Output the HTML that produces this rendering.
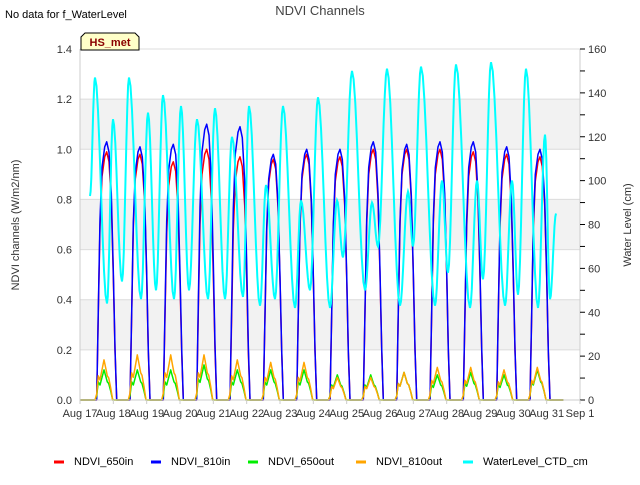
<!DOCTYPE html>
<html><head><meta charset="utf-8"><style>
body{margin:0;background:#fff;font-family:"Liberation Sans",sans-serif;}
svg text{font-family:"Liberation Sans",sans-serif;}
</style></head><body>
<svg id="chart" width="640" height="480" xmlns="http://www.w3.org/2000/svg">
<text x="5" y="18" font-size="11" fill="#000">No data for f_WaterLevel</text>
<text x="320" y="15" font-size="13" fill="#444" text-anchor="middle">NDVI Channels</text>
<g id="bands"></g><g id="grid"></g>
<g id="series"></g>
<g id="axes"></g>
<g>
<path d="M81,50 L81,37 L85,33 L135,33 L139,37 L139,50 Z" fill="#ffffc8" stroke="#000" stroke-width="1"/>
<text x="110" y="46" font-size="11" font-weight="bold" fill="#8b0000" text-anchor="middle">HS_met</text></g>
<text transform="translate(19,225) rotate(-90)" font-size="11" fill="#333" text-anchor="middle">NDVI channels (W/m2/nm)</text>
<text transform="translate(631,225) rotate(-90)" font-size="11" fill="#333" text-anchor="middle">Water Level (cm)</text>
<g id="legend"></g>
</svg>
<script>
const dayLabels=["Aug 17","Aug 18","Aug 19","Aug 20","Aug 21","Aug 22","Aug 23","Aug 24","Aug 25","Aug 26","Aug 27","Aug 28","Aug 29","Aug 30","Aug 31","Sep 1"];
const leftTicks=[0,0.2,0.4,0.6,0.8,1.0,1.2,1.4];
const rightTicks=[0,20,40,60,80,100,120,140,160];
const peak810in=[1.03,1.01,1.02,1.10,1.09,0.98,1.00,1.00,1.03,1.02,1.03,1.03,1.01,1.00];
const peak650in=[0.99,0.98,0.95,1.00,0.97,0.96,0.98,0.97,1.00,1.00,1.00,0.99,0.98,0.97];
const peak650out=[0.12,0.12,0.12,0.14,0.12,0.12,0.12,0.10,0.10,0.11,0.10,0.11,0.10,0.12];
const peak810out=[0.16,0.18,0.18,0.18,0.16,0.15,0.15,0.09,0.09,0.11,0.13,0.13,0.12,0.13];
const tideDay=[0.30,0.45,0.81,0.99,1.26,1.47,1.83,2.04,2.28,2.49,2.82,3.03,3.27,3.51,3.84,4.05,4.35,4.56,4.89,5.07,5.40,5.58,5.85,6.09,6.45,6.63,6.90,7.14,7.50,7.71,7.89,8.16,8.55,8.76,8.94,9.21,9.60,9.84,9.99,10.23,10.65,10.86,11.04,11.28,11.70,11.91,12.09,12.33,12.75,12.96,13.14,13.38,13.74,13.95,14.10,14.28];
const tideVal=[93,147,44,128,54,147,46,131,50,139,46,134,50,128,46,133,46,120,47,134,43,98,46,134,42,91,50,138,42,91,65,150,50,90,70,151,43,95,70,152,43,100,58,153,42,100,55,154,43,100,48,151,42,121,46,85];
const NS="http://www.w3.org/2000/svg";
const X0=80,X1=580,Y0=400,Y1=49;
const xs=d=>X0+(X1-X0)*d/15;
const yl=v=>Y0-(Y0-Y1)*v/1.4;
const yr=v=>Y0-(Y0-Y1)*v/160;
function mk(tag,attrs,parent){const e=document.createElementNS(NS,tag);for(const k in attrs)e.setAttribute(k,attrs[k]);parent.appendChild(e);return e;}
const bands=document.getElementById('bands'),grid=document.getElementById('grid'),axes=document.getElementById('axes'),ser=document.getElementById('series'),leg=document.getElementById('legend');
[[0.2,0.4],[0.6,0.8],[1.0,1.2]].forEach(b=>{const r=mk('rect',{x:X0,y:yl(b[1]),width:X1-X0,height:yl(b[0])-yl(b[1]),fill:'#f2f2f2'},bands);

});
leftTicks.forEach(v=>{const l=mk('line',{x1:X0,x2:X1,y1:yl(v),y2:yl(v),stroke:'#dcdcdc'},grid);


const t=mk('text',{x:72,y:yl(v)+4,'font-size':11,fill:'#333','text-anchor':'end'},axes);t.textContent=v.toFixed(1);

});
mk('line',{x1:X0,x2:X0,y1:Y1,y2:Y0,stroke:'#ccc'},axes);
mk('line',{x1:X1,x2:X1,y1:Y1,y2:Y0,stroke:'#ccc'},axes);
mk('line',{x1:X0,x2:X1,y1:Y0,y2:Y0,stroke:'#ccc'},axes);
for(let v=0;v<=160;v+=10){mk('line',{x1:X1,x2:X1+5,y1:yr(v),y2:yr(v),stroke:'#000'},axes);}
rightTicks.forEach(v=>{const t=mk('text',{x:588,y:yr(v)+4,'font-size':11,fill:'#333'},axes);t.textContent=v;

});
dayLabels.forEach((s,i)=>{mk('line',{x1:xs(i),x2:xs(i),y1:Y0,y2:Y0+4,stroke:'#ccc'},axes);
const t=mk('text',{x:xs(i),y:Y0+17,'font-size':11,fill:'#333','text-anchor':'middle'},axes);t.textContent=s;

});
const shapeIn=[[0,0],[0.5,0],[0.55,0.35],[0.6,0.7],[0.66,0.9],[0.74,0.98],[0.8,1],[0.87,0.96],[0.94,0.8],[1.0,0.5],[1.05,0.2],[1.1,0],[1.5,0]];
const shapeOut=[[0,0],[0.45,0],[0.5,0.15],[0.55,0.6],[0.6,0.5],[0.66,0.75],[0.72,1],[0.77,0.8],[0.82,0.6],[0.86,0.55],[0.92,0.3],[0.98,0],[1.5,0]];
function diurnal(peaks,shape,color,w,name){let d='';
peaks.forEach((p,i)=>{shape.forEach((s,j)=>{if(i>0&&j===0)return; if(i<peaks.length-1&&j===shape.length-1)return;
d+=(d?'L':'M')+xs(i+s[0]).toFixed(1)+','+yl(p*s[1]).toFixed(1);});});
const pth=mk('path',{d:d,fill:'none',stroke:color,'stroke-width':w,'stroke-linejoin':'round'},ser);

}
diurnal(peak650in,shapeIn,'#ff0000',1.5,'ndvi-650in-line');
diurnal(peak810in,shapeIn,'#0000ff',1.5,'ndvi-810in-line');
diurnal(peak650out,shapeOut,'#00ee00',1.5,'ndvi-650out-line');
diurnal(peak810out,shapeOut,'#ffa500',1.5,'ndvi-810out-line');
let td='';
for(let i=0;i<tideDay.length;i++){
 if(i===0){td='M'+xs(tideDay[0]).toFixed(1)+','+yr(tideVal[0]).toFixed(1);continue;}
 const a=tideDay[i-1],b=tideDay[i],va=tideVal[i-1],vb=tideVal[i];
 for(let k=1;k<=8;k++){const f=k/8,t=a+(b-a)*f,v=va+(vb-va)*(1-Math.cos(Math.PI*f))/2;td+='L'+xs(t).toFixed(1)+','+yr(v).toFixed(1);}
}
const tp=mk('path',{d:td,fill:'none',stroke:'#00ffff','stroke-width':2},ser);


const legendItems=[['NDVI_650in','#ff0000',54],['NDVI_810in','#0000ff',151],['NDVI_650out','#00ee00',248],['NDVI_810out','#ffa500',356],['WaterLevel_CTD_cm','#00ffff',463]];
legendItems.forEach(it=>{const g=mk('g',{},leg);


mk('line',{x1:it[2],x2:it[2]+10,y1:462,y2:462,stroke:it[1],'stroke-width':3},g);
const t=mk('text',{x:it[2]+20,y:465,'font-size':11,fill:'#000'},g);t.textContent=it[0];});
</script>
</body></html>
